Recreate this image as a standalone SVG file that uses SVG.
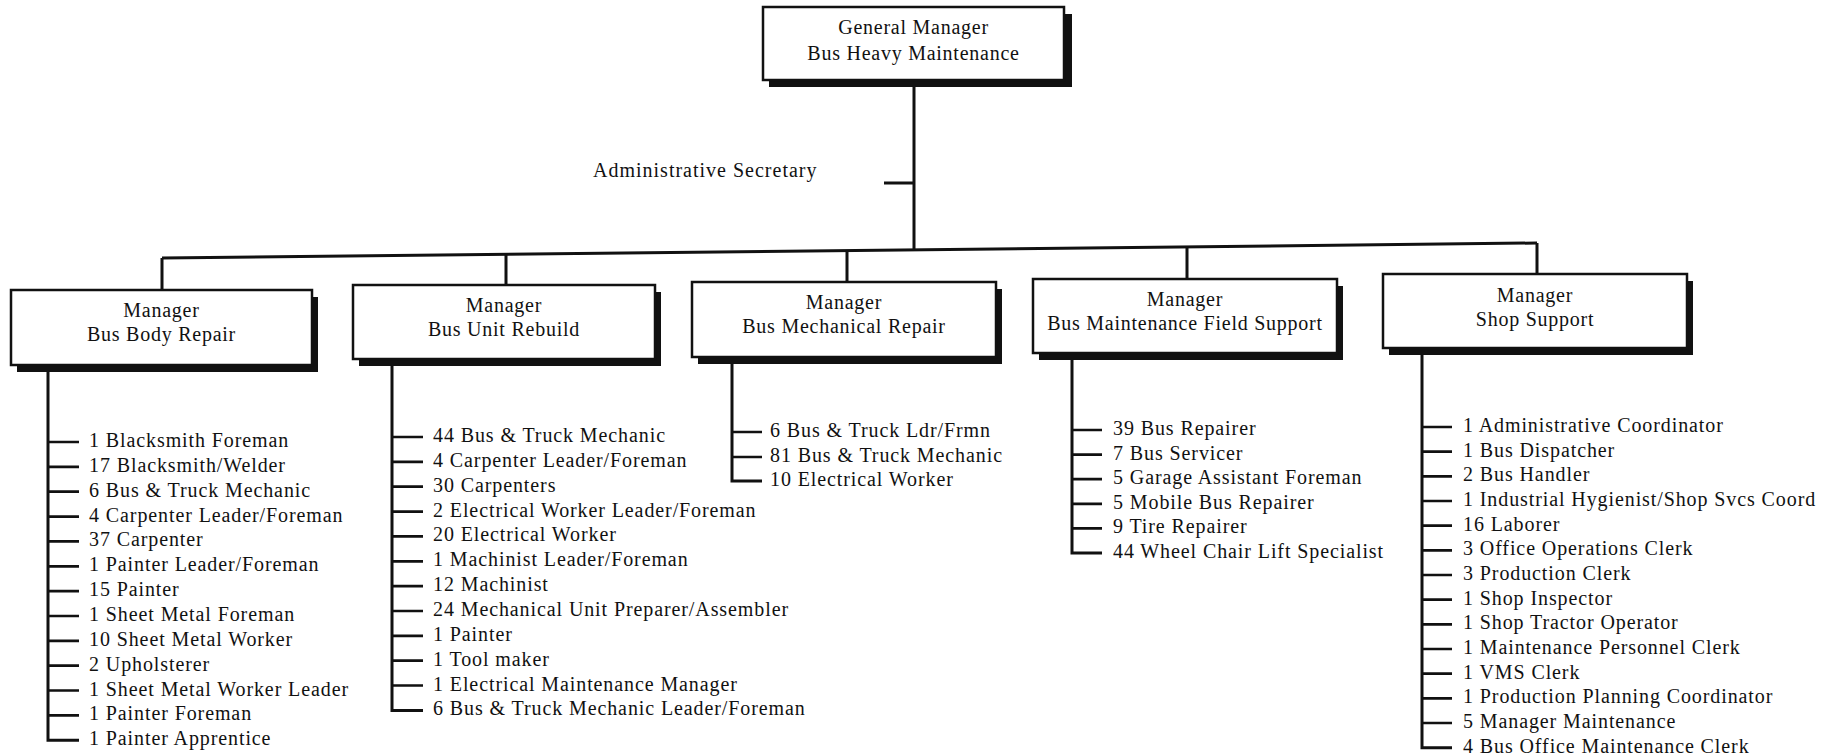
<svg xmlns="http://www.w3.org/2000/svg" width="1835" height="754" viewBox="0 0 1835 754">
<style>
text{font-family:"Liberation Serif","Times New Roman",serif;font-size:20px;letter-spacing:0.9px;fill:#111}
.c{text-anchor:middle;letter-spacing:0.75px}
.a{letter-spacing:1px}
.box{fill:#fff;stroke:#111;stroke-width:2.5}
.sh{fill:#111}
.ln{fill:none;stroke:#111;stroke-width:3}
.tk{fill:none;stroke:#111;stroke-width:2.7}
</style>
<rect width="1835" height="754" fill="#fff"/>
<g id="connectors">
<path class="ln" d="M914 87V249M884 183H914"/>
<path class="ln" d="M162 258L1537 243"/>
<path class="ln" d="M162 258V290M506 254.5V285M847 250.5V282M1187 247.5V279M1537 243V274"/>
<path class="ln" d="M48 365V740.2H79"/>
<path class="tk" d="M48 442H79M48 466.9H79M48 491.7H79M48 516.6H79M48 541.4H79M48 566.3H79M48 591.1H79M48 616H79M48 640.8H79M48 665.7H79M48 690.5H79M48 715.4H79"/>
<path class="ln" d="M392 359V710.4H423"/>
<path class="tk" d="M392 437H423M392 461.9H423M392 486.7H423M392 511.6H423M392 536.4H423M392 561.3H423M392 586.1H423M392 611H423M392 635.8H423M392 660.7H423M392 685.5H423"/>
<path class="ln" d="M732 358V481H762"/>
<path class="tk" d="M732 432H762M732 457H762"/>
<path class="ln" d="M1072 353V553H1102"/>
<path class="tk" d="M1072 430H1102M1072 454.6H1102M1072 479.2H1102M1072 503.8H1102M1072 528.4H1102"/>
<path class="ln" d="M1422 348V747.7H1452"/>
<path class="tk" d="M1422 427H1452M1422 451.7H1452M1422 476.3H1452M1422 501H1452M1422 525.7H1452M1422 550.3H1452M1422 575H1452M1422 599.7H1452M1422 624.3H1452M1422 649H1452M1422 673.7H1452M1422 698.3H1452M1422 723H1452"/>
</g>
<g id="gm">
<rect class="sh" x="769" y="14" width="303" height="73"/>
<rect class="box" x="763" y="7" width="301" height="73"/>
<text class="c" x="913.5" y="34">General Manager</text>
<text class="c" x="913.5" y="60">Bus Heavy Maintenance</text>
</g>
<g id="admin-secretary">
<text class="a" x="593" y="177">Administrative Secretary</text>
</g>
<g id="bus-body-repair">
<rect class="sh" x="17" y="297" width="301" height="75"/>
<rect class="box" x="11" y="290" width="301" height="75"/>
<text class="c" x="161.5" y="317">Manager</text>
<text class="c" x="161.5" y="341">Bus Body Repair</text>
<text x="89" y="447">1 Blacksmith Foreman</text>
<text x="89" y="471.9">17 Blacksmith/Welder</text>
<text x="89" y="496.7">6 Bus &amp; Truck Mechanic</text>
<text x="89" y="521.6">4 Carpenter Leader/Foreman</text>
<text x="89" y="546.4">37 Carpenter</text>
<text x="89" y="571.3">1 Painter Leader/Foreman</text>
<text x="89" y="596.1">15 Painter</text>
<text x="89" y="621">1 Sheet Metal Foreman</text>
<text x="89" y="645.8">10 Sheet Metal Worker</text>
<text x="89" y="670.7">2 Upholsterer</text>
<text x="89" y="695.5">1 Sheet Metal Worker Leader</text>
<text x="89" y="720.4">1 Painter Foreman</text>
<text x="89" y="745.2">1 Painter Apprentice</text>
</g>
<g id="bus-unit-rebuild">
<rect class="sh" x="359" y="292" width="302" height="74"/>
<rect class="box" x="353" y="285" width="302" height="74"/>
<text class="c" x="504" y="312">Manager</text>
<text class="c" x="504" y="336">Bus Unit Rebuild</text>
<text x="433" y="442">44 Bus &amp; Truck Mechanic</text>
<text x="433" y="466.9">4 Carpenter Leader/Foreman</text>
<text x="433" y="491.7">30 Carpenters</text>
<text x="433" y="516.6">2 Electrical Worker Leader/Foreman</text>
<text x="433" y="541.4">20 Electrical Worker</text>
<text x="433" y="566.3">1 Machinist Leader/Foreman</text>
<text x="433" y="591.1">12 Machinist</text>
<text x="433" y="616">24 Mechanical Unit Preparer/Assembler</text>
<text x="433" y="640.8">1 Painter</text>
<text x="433" y="665.7">1 Tool maker</text>
<text x="433" y="690.5">1 Electrical Maintenance Manager</text>
<text x="433" y="715.4">6 Bus &amp; Truck Mechanic Leader/Foreman</text>
</g>
<g id="bus-mechanical-repair">
<rect class="sh" x="698" y="289" width="304" height="75"/>
<rect class="box" x="692" y="282" width="304" height="75"/>
<text class="c" x="844" y="309">Manager</text>
<text class="c" x="844" y="333">Bus Mechanical Repair</text>
<text x="770" y="437">6 Bus &amp; Truck Ldr/Frmn</text>
<text x="770" y="462">81 Bus &amp; Truck Mechanic</text>
<text x="770" y="486">10 Electrical Worker</text>
</g>
<g id="bus-maintenance-field-support">
<rect class="sh" x="1039" y="286" width="304" height="74"/>
<rect class="box" x="1033" y="279" width="304" height="74"/>
<text class="c" x="1185" y="306">Manager</text>
<text class="c" x="1185" y="330">Bus Maintenance Field Support</text>
<text x="1113" y="435">39 Bus Repairer</text>
<text x="1113" y="459.6">7 Bus Servicer</text>
<text x="1113" y="484.2">5 Garage Assistant Foreman</text>
<text x="1113" y="508.8">5 Mobile Bus Repairer</text>
<text x="1113" y="533.4">9 Tire Repairer</text>
<text x="1113" y="558">44 Wheel Chair Lift Specialist</text>
</g>
<g id="shop-support">
<rect class="sh" x="1389" y="281" width="304" height="74"/>
<rect class="box" x="1383" y="274" width="304" height="74"/>
<text class="c" x="1535" y="302">Manager</text>
<text class="c" x="1535" y="326">Shop Support</text>
<text x="1463" y="432">1 Administrative Coordinator</text>
<text x="1463" y="456.7">1 Bus Dispatcher</text>
<text x="1463" y="481.3">2 Bus Handler</text>
<text x="1463" y="506">1 Industrial Hygienist/Shop Svcs Coord</text>
<text x="1463" y="530.7">16 Laborer</text>
<text x="1463" y="555.3">3 Office Operations Clerk</text>
<text x="1463" y="580">3 Production Clerk</text>
<text x="1463" y="604.7">1 Shop Inspector</text>
<text x="1463" y="629.3">1 Shop Tractor Operator</text>
<text x="1463" y="654">1 Maintenance Personnel Clerk</text>
<text x="1463" y="678.7">1 VMS Clerk</text>
<text x="1463" y="703.3">1 Production Planning Coordinator</text>
<text x="1463" y="728">5 Manager Maintenance</text>
<text x="1463" y="752.7">4 Bus Office Maintenance Clerk</text>
</g>
</svg>
